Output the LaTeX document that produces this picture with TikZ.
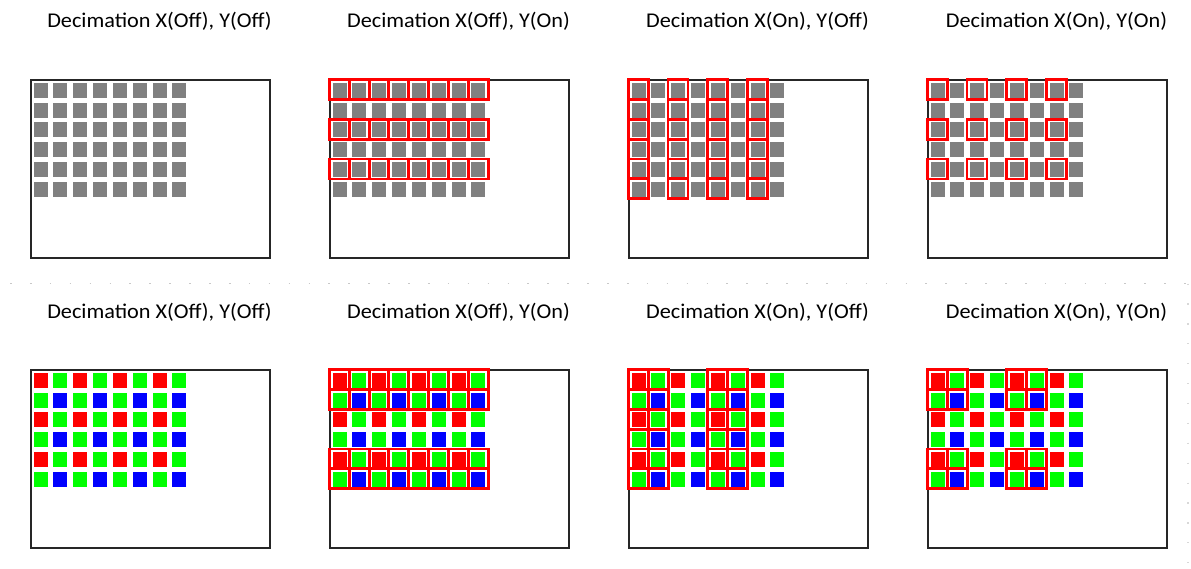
\documentclass[tikz,border=0pt]{standalone}
\usepackage{fontspec}
\setmainfont{Carlito}
\definecolor{cgray}{HTML}{808080}
\definecolor{cred}{HTML}{FF0000}
\definecolor{cgreen}{HTML}{00FF00}
\definecolor{cblue}{HTML}{0000FF}
\definecolor{dotgray}{HTML}{C8C8C8}
\newcommand\mysq[3]{\filldraw[cell,fill=#3] ({9.3+19.85*#1-7.5},{10+19.85*#2-8}) rectangle ++(15,16);}
\newcommand\myfrm[2]{\draw[frame] ({9.3+19.85*#1-10},{10+19.85*#2-10.5}) rectangle ++(20,20);}
\begin{document}
\begin{tikzpicture}[x=1pt,y=-1pt,
  cell/.style={draw=white,line width=0.6pt},
  frame/.style={draw=cred,line width=2.8pt},
  panel/.style={draw=black!85,line width=1.6pt},
  title/.style={anchor=base,font=\fontsize{21}{24}\selectfont,inner sep=0pt}]
\useasboundingbox (0,0) rectangle (1191,568);
\fill[white] (0,0) rectangle (1191,568);

% separator
\coordinate (hl) at (10,283.5);
\coordinate (hr) at (1188,283.5);
\coordinate (vb) at (1188,568);
\draw[dotgray,line width=1.6pt,dash pattern=on 1.6pt off 18.3pt] (hl) -- (hr);
\draw[dotgray!70,line width=1.2pt,dash pattern=on 1.2pt off 18.7pt] (hr) -- (vb);

% titles
\node[title] (t1) at (159.5,27.7) {\scalebox{1.06}[1]{Decimation X(Off), Y(Off)}};
\node[title] (t2) at (458.5,27.7) {\scalebox{1.06}[1]{Decimation X(Off), Y(On)}};
\node[title] (t3) at (757.5,27.7) {\scalebox{1.06}[1]{Decimation X(On), Y(Off)}};
\node[title] (t4) at (1056.5,27.7) {\scalebox{1.06}[1]{Decimation X(On), Y(On)}};
\node[title] (t5) at (159.5,318) {\scalebox{1.06}[1]{Decimation X(Off), Y(Off)}};
\node[title] (t6) at (458.5,318) {\scalebox{1.06}[1]{Decimation X(Off), Y(On)}};
\node[title] (t7) at (757.5,318) {\scalebox{1.06}[1]{Decimation X(On), Y(Off)}};
\node[title] (t8) at (1056.5,318) {\scalebox{1.06}[1]{Decimation X(On), Y(On)}};

% top row: gray pixels
\foreach \k in {0,...,3}{
  \begin{scope}[shift={(31+299*\k,80)}]
    \draw[panel] (0,0) rectangle (239,178);
    \foreach \i in {0,...,7}{\foreach \j in {0,...,5}{\mysq{\i}{\j}{cgray}}}
  \end{scope}
}
\begin{scope}[shift={(330,80)}]
  \foreach \i in {0,...,7}{\foreach \j in {0,2,4}{\myfrm{\i}{\j}}}
\end{scope}
\begin{scope}[shift={(629,80)}]
  \foreach \i in {0,2,4,6}{\foreach \j in {0,...,5}{\myfrm{\i}{\j}}}
\end{scope}
\begin{scope}[shift={(928,80)}]
  \foreach \i in {0,2,4,6}{\foreach \j in {0,2,4}{\myfrm{\i}{\j}}}
\end{scope}

% bottom row: Bayer pixels
\foreach \k in {0,...,3}{
  \begin{scope}[shift={(31+299*\k,370)}]
    \draw[panel] (0,0) rectangle (239,178);
    \foreach \i in {0,2,4,6}{\foreach \j in {0,2,4}{\mysq{\i}{\j}{cred}}}
    \foreach \i in {1,3,5,7}{\foreach \j in {0,2,4}{\mysq{\i}{\j}{cgreen}}}
    \foreach \i in {0,2,4,6}{\foreach \j in {1,3,5}{\mysq{\i}{\j}{cgreen}}}
    \foreach \i in {1,3,5,7}{\foreach \j in {1,3,5}{\mysq{\i}{\j}{cblue}}}
  \end{scope}
}
\begin{scope}[shift={(330,370)}]
  \foreach \i in {0,...,7}{\foreach \j in {0,1,4,5}{\myfrm{\i}{\j}}}
\end{scope}
\begin{scope}[shift={(629,370)}]
  \foreach \i in {0,1,4,5}{\foreach \j in {0,...,5}{\myfrm{\i}{\j}}}
\end{scope}
\begin{scope}[shift={(928,370)}]
  \foreach \i in {0,1,4,5}{\foreach \j in {0,1,4,5}{\myfrm{\i}{\j}}}
\end{scope}
\end{tikzpicture}
\end{document}
